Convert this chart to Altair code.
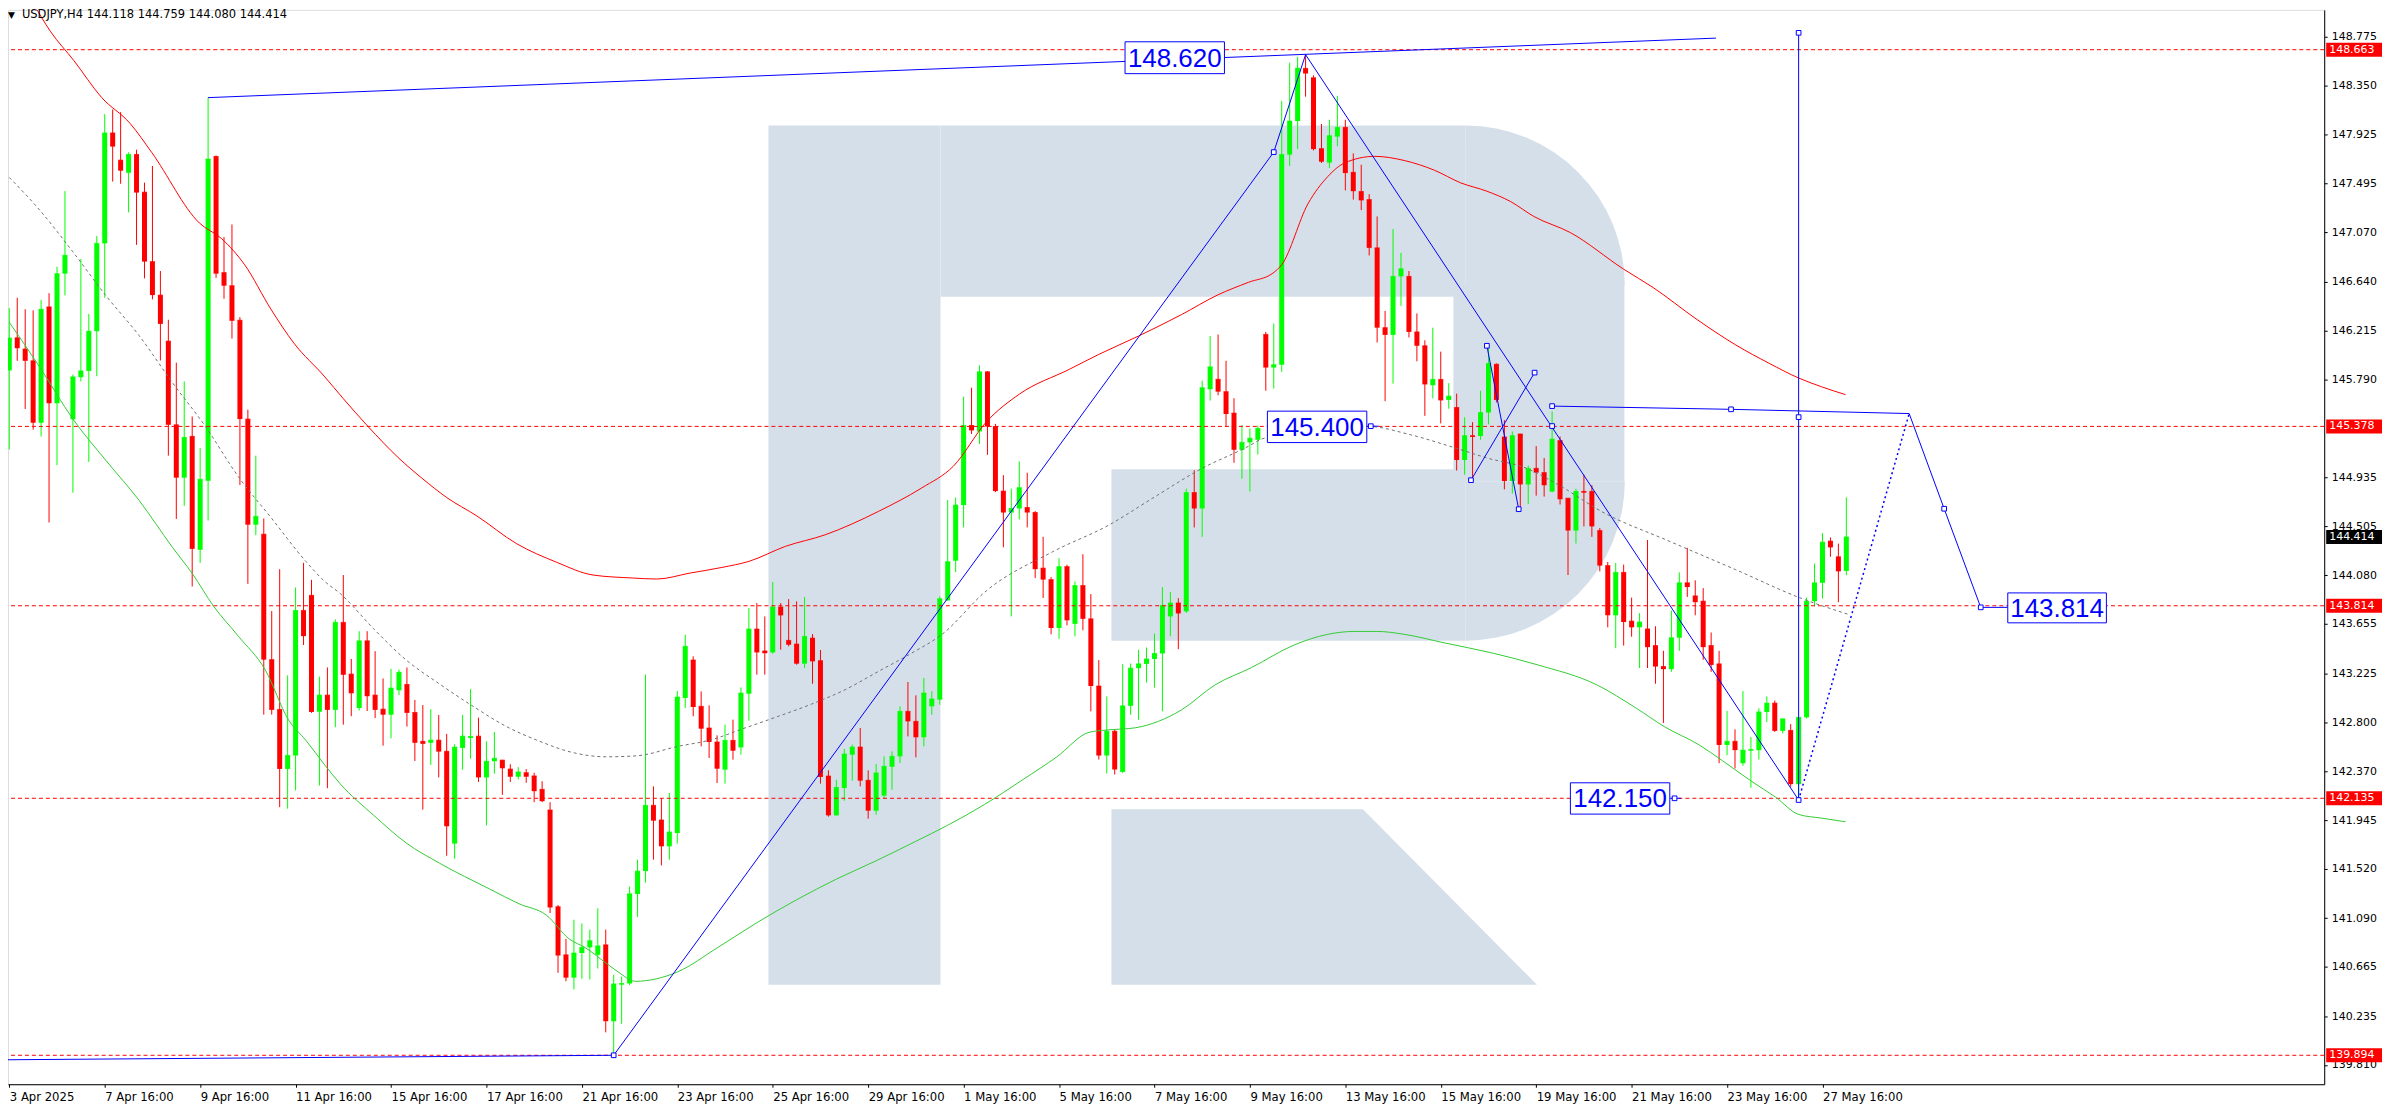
import altair as alt
import pandas as pd

# ---------------- data ----------------
bar_index = list(range(1, 233))
open_px = [145.866,146.150,146.053,145.950,145.410,146.420,145.580,146.710,145.440,145.807,
145.862,146.208,146.974,147.937,147.700,147.590,147.750,147.421,146.815,146.523,
146.122,145.392,144.931,145.291,144.302,144.904,147.732,146.719,146.605,146.304,
145.442,144.521,144.438,143.344,142.910,142.391,142.509,143.773,143.905,142.890,
143.035,142.906,143.669,143.218,142.922,143.508,143.035,142.912,142.864,143.077,
143.128,142.883,142.632,142.619,142.642,142.545,141.740,142.574,142.661,142.677,
142.317,142.458,142.468,142.390,142.323,142.358,142.330,142.213,142.033,141.189,
140.770,140.571,140.786,140.835,140.770,140.857,140.191,140.510,140.520,141.300,
141.500,142.074,141.946,141.716,141.832,143.010,143.341,142.937,142.748,142.626,
142.385,142.640,142.579,143.047,143.611,143.420,143.407,143.803,143.512,143.480,
143.309,143.532,143.335,142.329,141.986,142.225,142.515,142.582,142.292,142.027,
142.158,142.410,142.501,142.893,142.806,142.667,142.937,142.995,143.860,144.207,
144.692,145.386,145.334,145.854,145.377,144.814,144.627,144.662,144.671,144.627,
144.142,144.042,143.620,144.155,143.656,143.990,143.700,143.114,142.508,142.720,
142.365,142.941,143.270,143.307,143.350,143.398,143.721,143.838,143.765,144.801,
144.662,145.702,145.789,145.681,145.494,145.174,145.239,145.261,146.180,145.891,
145.916,147.748,148.041,148.500,148.418,147.800,147.678,147.905,147.986,147.594,
147.426,147.356,146.935,146.239,146.176,146.686,146.686,146.202,146.081,145.737,
145.788,145.609,145.543,145.085,145.297,145.294,145.499,145.920,145.286,144.902,
145.312,144.872,145.012,144.975,144.810,145.254,144.752,144.470,144.811,144.811,
144.470,144.164,143.731,144.105,143.680,143.626,143.612,143.467,143.284,143.261,
143.535,144.014,143.900,143.854,143.467,143.307,142.600,142.632,142.441,142.550,
142.555,142.888,142.965,142.723,142.727,142.258,142.841,143.854,144.014,144.378,
144.241,144.118]
high_px = [146.409,146.500,146.400,146.390,146.480,146.540,146.770,147.430,145.830,146.838,
146.359,147.038,148.101,148.142,148.119,147.768,147.791,147.504,147.649,146.733,
146.308,145.934,145.770,145.465,145.191,148.245,147.741,147.029,147.139,146.331,
145.524,145.123,144.575,143.768,144.133,143.207,143.973,144.188,144.040,143.196,
143.276,143.695,144.082,143.350,143.592,143.592,143.418,143.180,143.264,143.257,
143.276,142.993,142.948,142.912,142.861,142.697,142.606,142.861,143.086,142.838,
142.632,142.713,142.470,142.432,142.407,142.390,142.358,142.284,142.101,141.205,
140.909,141.076,141.044,140.990,141.176,140.990,140.597,140.580,141.366,141.600,
143.213,142.239,142.135,142.181,143.070,143.561,143.373,143.067,142.945,142.684,
142.777,142.821,143.102,143.794,143.838,143.721,144.021,143.838,143.872,143.852,
143.890,143.567,143.428,142.379,142.297,142.565,142.603,142.748,142.379,142.434,
142.501,142.544,142.937,143.149,143.033,143.184,143.068,143.896,144.736,144.757,
145.637,145.715,145.910,145.860,145.400,144.953,144.835,145.074,144.974,144.640,
144.415,144.064,144.229,144.172,144.025,144.263,143.916,143.340,143.023,142.733,
143.305,143.310,143.430,143.450,143.571,143.977,143.934,143.880,144.835,144.996,
145.776,146.166,146.179,145.950,145.624,145.390,145.360,145.385,146.202,146.275,
148.217,148.550,148.600,148.620,148.440,148.015,148.052,148.261,148.052,147.759,
147.660,147.403,147.209,146.385,147.099,146.891,146.733,146.363,146.129,146.239,
146.030,145.755,145.664,145.458,145.415,145.689,146.081,145.927,145.433,145.334,
145.312,145.037,145.206,145.103,145.509,145.290,144.752,144.834,144.957,144.866,
144.492,144.196,144.187,144.173,143.885,143.749,144.387,143.635,143.421,143.772,
144.105,144.319,144.036,143.968,143.581,143.421,142.897,142.736,143.070,142.669,
142.920,143.024,142.988,142.828,142.782,142.841,143.886,144.182,144.447,144.410,
144.356,144.759]
low_px = [145.177,145.950,145.530,145.350,145.290,144.540,145.040,146.520,144.800,145.770,
145.068,145.816,146.500,147.513,147.494,147.244,146.961,146.669,146.486,145.953,
145.123,144.571,144.685,143.982,144.188,144.557,146.673,146.491,146.144,144.867,
144.005,144.430,142.865,142.865,142.058,142.044,142.204,143.472,142.880,142.246,
142.223,142.755,142.777,142.851,142.900,142.896,142.835,142.594,142.658,143.035,
142.761,142.461,142.036,142.426,142.317,141.634,141.608,142.384,142.481,142.278,
141.898,142.349,142.165,142.278,142.300,142.271,142.101,142.101,141.134,140.613,
140.539,140.468,140.561,140.555,140.651,140.094,139.894,140.168,140.506,141.100,
141.400,141.600,141.550,141.600,141.740,142.922,142.850,142.588,142.486,142.268,
142.263,142.472,142.515,142.812,143.213,143.213,143.396,143.431,143.460,143.300,
143.271,143.134,142.263,141.975,141.986,142.114,142.289,142.239,141.957,141.992,
142.129,142.210,142.443,142.675,142.492,142.588,142.864,142.951,143.860,144.107,
144.497,145.312,145.225,145.130,144.805,144.324,143.721,144.567,144.497,144.055,
143.882,143.565,143.526,143.643,143.548,143.600,142.893,142.473,142.352,142.343,
142.356,142.863,142.820,143.145,143.100,142.893,143.548,143.435,143.752,144.497,
144.415,145.603,145.650,145.377,145.061,144.922,144.810,145.133,145.689,145.708,
145.854,147.649,147.796,148.253,147.785,147.675,147.631,147.821,147.436,147.356,
147.264,146.869,146.110,145.598,145.751,146.429,146.154,145.946,145.470,145.623,
145.404,145.532,144.993,144.957,144.920,145.261,145.396,145.587,144.829,144.792,
144.664,144.700,144.774,144.766,144.803,144.697,144.082,144.356,144.506,144.415,
144.114,143.626,143.444,143.467,143.544,143.271,143.271,143.134,142.792,143.238,
143.421,143.891,143.731,143.343,143.238,142.441,142.510,142.395,142.418,142.227,
142.473,142.800,142.714,142.700,142.235,142.113,142.830,143.809,143.877,144.241,
143.845,144.080]
close_px = [146.149,146.060,145.950,145.410,146.400,145.580,146.710,146.870,145.810,145.862,
146.208,146.974,147.937,147.818,147.608,147.750,147.417,146.815,146.523,146.272,
145.392,144.931,145.282,144.310,144.917,147.709,146.710,146.605,146.299,145.442,
144.521,144.594,143.344,142.906,142.391,142.509,143.773,143.549,142.888,143.035,
142.906,143.669,143.212,143.051,143.508,143.025,142.906,142.864,143.096,143.234,
142.880,142.619,142.610,142.642,142.542,141.891,142.581,142.677,142.674,142.317,
142.458,142.484,142.397,142.323,142.365,142.323,142.197,142.110,141.183,140.764,
140.571,140.786,140.835,140.893,140.848,140.191,140.516,140.520,141.302,141.500,
142.074,141.940,141.716,141.841,143.018,143.460,142.931,142.742,142.626,142.393,
142.640,142.550,143.053,143.611,143.407,143.400,143.803,143.730,143.474,143.309,
143.547,143.329,142.321,141.986,142.230,142.521,142.582,142.289,142.027,142.356,
142.414,142.501,142.893,142.806,142.667,143.053,143.001,143.875,144.198,144.692,
145.386,145.343,145.854,145.377,144.814,144.627,144.662,144.844,144.627,144.133,
144.042,143.620,144.155,143.687,143.990,143.700,143.114,142.508,142.720,142.386,
142.941,143.270,143.307,143.350,143.398,143.817,143.838,143.747,144.801,144.662,
145.715,145.897,145.681,145.486,145.174,145.239,145.275,145.360,145.891,145.916,
147.748,148.041,148.502,148.455,147.796,147.686,147.913,147.986,147.587,147.429,
147.349,146.935,146.239,146.176,146.686,146.752,146.202,146.081,145.744,145.788,
145.605,145.642,145.085,145.297,145.286,145.499,145.927,145.609,144.902,145.297,
144.872,145.012,144.975,144.865,145.267,144.743,144.470,144.811,144.800,144.506,
144.164,143.731,144.105,143.672,143.626,143.672,143.453,143.284,143.261,143.535,
144.014,143.977,143.845,143.453,143.298,142.600,142.632,142.555,142.555,142.560,
142.888,142.965,142.723,142.828,142.258,142.841,143.854,144.014,144.369,144.323,
144.114,144.414]

# moving averages (bar position, value)
red_ma_bar = [3.9,6.2,9.1,12.6,16.2,18.9,24.9,27.7,30.6,33.9,36.8,40.6,43,46.1,50,53,56,59.8,64.8,69.8,74.4,79.4,
              82.4,86.6,90.6,94,98.6,103.6,110.3,115.7,119.7,123.9,128,134.3,138,143,148.4,153,156.8,159.9,161,
              164.3,166.8,168.9,172.7,176.4,180.2,183.5,186.8,189.8,192.7,197.3,204,207.7,213.1,218.1,222.3,226,228.9,231.9]
red_ma_val = [149.08,148.82,148.57,148.247,148.019,147.768,147.152,147.015,146.787,146.40,146.103,145.816,145.62,145.378,
              145.10,144.92,144.758,144.597,144.355,144.194,144.082,144.056,144.047,144.099,144.148,144.201,144.332,144.433,
              144.637,144.84,145.03,145.42,145.659,145.876,146.006,146.166,146.353,146.526,146.634,146.715,146.788,147.319,
              147.557,147.675,147.733,147.697,147.612,147.502,147.429,147.338,147.209,147.068,146.749,146.589,146.316,146.088,
              145.928,145.80,145.723,145.655]
green_ma_bar = [1,4.8,9,13.2,17.3,21.5,24,26.7,29.8,33.2,36.1,38.3,40.6,42.6,46.8,50.9,55.1,61.4,65.1,68.5,71.4,73.5,76,
                77.6,79.7,85,90,95,100,105,110,115,119,123.6,128.5,132.7,136.8,139,142.6,148.4,152.6,157.2,162.6,166.8,
                170.1,173,176.4,181.4,187.6,193.1,200.6,205.6,209.1,213.5,216.4,220.1,223.1,226,228.9,231.9]
green_ma_val = [146.286,145.898,145.442,145.077,144.735,144.325,144.096,143.809,143.549,143.253,142.82,142.64,142.432,
                142.262,141.988,141.746,141.569,141.344,141.215,141.118,140.909,140.829,140.70,140.619,140.539,140.62,
                140.83,141.05,141.25,141.43,141.59,141.76,141.90,142.08,142.30,142.495,142.711,142.73,142.75,142.906,
                143.123,143.275,143.473,143.565,143.59,143.59,143.565,143.491,143.40,143.30,143.125,142.92,142.76,142.60,
                142.464,142.282,142.145,141.994,141.962,141.93]
gray_ma_bar = [1,4.8,9,13.2,17.3,21.5,25.7,29.8,34,38.3,40.6,42.6,46.8,50.9,55.1,59.3,63.5,67.7,71.8,76,79.8,85.1,89.3,
               93.5,97.7,101.9,106.1,110.3,114.5,118.2,123.9,132.2,139.3,144.7,150.9,156.8,158.5,165,171.8,177.2,182.6,
               186.8,191.8,195.6,201.4,209.7,218.1,226.4,232.2]
gray_ma_val = [147.549,147.266,146.90,146.514,146.172,145.761,145.374,144.94,144.575,144.2,144.03,143.921,143.614,143.341,
               143.132,142.938,142.761,142.632,142.535,142.497,142.505,142.588,142.646,142.748,142.85,142.957,143.082,
               143.242,143.402,143.56,143.947,144.285,144.519,144.749,145.009,145.204,145.268,145.35,145.378,145.305,
               145.195,145.103,145.012,144.876,144.629,144.378,144.128,143.877,143.74]

# analyst drawings (blue)
blue_seg = ["A","A","B","B","C","C","C","D","D","E","E","F","F","G","G","G","H","H","I","I","I","I","K","K","L","L"]
blue_bar = [26,215.6, 0.84,77, 77,160,164, 164,226, 186.8,190.8, 184.8,192.8, 195,217.5,239.9, 226,226,
            239.9,244.3,248.9,252.3, 171.7,173.2, 209.8,211.2]
blue_val = [148.245,148.764, 139.855,139.894, 139.894,147.77,148.62, 148.62,142.12, 146.081,144.656, 144.909,145.847,
            145.555,145.527,145.49, 142.12,148.81, 145.49,144.66,143.80,143.80, 145.38,145.38, 142.135,142.135]
dotted_bar = [226, 239.9]
dotted_val = [142.12, 145.49]
anchor_bar = [77,160,184.8,186.8,190.8,192.8,195,195,217.5,226,226,226,244.3,248.9,172.2,210.4]
anchor_val = [139.894,147.77,144.909,146.081,144.656,145.847,145.555,145.381,145.527,145.459,148.81,142.12,144.66,143.80,
              145.38,142.135]

label_text = ["148.620", "145.400", "142.150", "143.814"]
label_bar1 = [141.3, 159.2, 197.3, 252.3]
label_bar2 = [153.8, 171.7, 209.8, 264.7]
label_top = [148.732, 145.511, 142.270, 143.926]
label_bot = [148.454, 145.237, 141.997, 143.665]

level_prices = [148.663, 145.378, 143.814, 142.135, 139.894]
tag_prices = [148.663, 145.378, 143.814, 142.135, 139.894, 144.414]
tag_colors = ["#FF0000", "#FF0000", "#FF0000", "#FF0000", "#FF0000", "#000000"]

tick_bars = [1,13,25,37,49,61,73,85,97,109,121,133,145,157,169,181,193,205,217,229]
tick_labels = ["3 Apr 2025","7 Apr 16:00","9 Apr 16:00","11 Apr 16:00","15 Apr 16:00","17 Apr 16:00",
               "21 Apr 16:00","23 Apr 16:00","25 Apr 16:00","29 Apr 16:00","1 May 16:00","5 May 16:00",
               "7 May 16:00","9 May 16:00","13 May 16:00","15 May 16:00","19 May 16:00","21 May 16:00",
               "23 May 16:00","27 May 16:00"]
price_ticks = [148.775,148.350,147.925,147.495,147.070,146.640,146.215,145.790,144.935,144.505,144.080,
               143.655,143.225,142.800,142.370,141.945,141.520,141.090,140.665,140.235,139.810]

header = "USDJPY,H4  144.118 144.759 144.080 144.414"

# watermark logo pieces (in bar / price units)
logo_bar1 = [96.46, 118.09, 182.59, 139.59]
logo_bar2 = [118.09, 184.09, 204.09, 184.09]
logo_top = [148.002, 148.002, 146.612, 145.004]
logo_bot = [140.510, 146.508, 144.900, 143.509]
leg_bar = [139.59, 171.21, 193.09]
leg_top = [142.040, 142.040, 140.510]
leg_bot = [140.510, 140.510, 140.510]
corner_bar = [184.09, 184.09]
corner_val = [146.612, 144.900]

# ---------------- chart ----------------
W, H = 2324, 1078
XDOM = [0.8375, 292.09]
YDOM = [139.6415, 149.0105]
ppy = H / (YDOM[1] - YDOM[0])

xs = alt.Scale(domain=XDOM, nice=False, zero=False)
ys = alt.Scale(domain=YDOM, nice=False, zero=False)

label_expr = " : ".join(f"datum.value == {b} ? '{t}'" for b, t in zip(tick_bars, tick_labels)) + " : ''"
xaxis = alt.Axis(orient="bottom", values=tick_bars, labelExpr=label_expr, labelAlign="left",
                 labelBaseline="top", labelPadding=3, labelFont="Liberation Sans Narrow, DejaVu Sans Condensed, sans-serif",
                 labelFontSize=13, labelColor="#000000", tickSize=3, tickColor="#000000", domainColor="#000000",
                 grid=False, title=None, labelOverlap=False, labelFlush=False, labelBound=False)
yaxis = alt.Axis(orient="right", values=price_ticks, format=".3f", labelAlign="left", labelBaseline="middle",
                 labelPadding=4, labelFont="DejaVu Sans", labelFontSize=11, labelColor="#000000", tickSize=3,
                 tickColor="#000000", domainColor="#000000", grid=False, title=None, labelOverlap=False,
                 labelFlush=False, labelBound=False)

X = alt.X("bar:Q", scale=xs, axis=xaxis, title=None)
Y = alt.Y("price:Q", scale=ys, axis=yaxis, title=None)

candles = pd.DataFrame({"bar": bar_index, "open": open_px, "high": high_px, "low": low_px, "close": close_px})
candles["dir"] = ["up" if c >= o else "down" for o, c in zip(open_px, close_px)]
candles["price"] = candles[["open", "close"]].max(axis=1)
candles["price2"] = candles[["open", "close"]].min(axis=1)
color = alt.Color("dir:N", scale=alt.Scale(domain=["up", "down"], range=["#00FF00", "#FF0000"]), legend=None)

base = alt.Chart(candles)
wicks = base.mark_rule(strokeWidth=1).encode(x=X, y=alt.Y("high:Q", scale=ys, axis=yaxis, title=None),
                                               y2="low:Q", color=color)
bodies = base.mark_rule(strokeWidth=5).encode(x=X, y=Y, y2="price2:Q", color=color)
doji = base.mark_tick(thickness=1, size=5, orient="horizontal").encode(x=X, y=Y, color=color)

logo_df = pd.DataFrame({"bar": logo_bar1, "bar2": logo_bar2, "price": logo_top, "price2": logo_bot})
logo_rects = alt.Chart(logo_df).mark_rect(color="#D5DFEA").encode(x=X, x2="bar2:Q", y=Y, y2="price2:Q")
leg_df = pd.DataFrame({"bar": leg_bar, "price": leg_top, "price2": leg_bot})
logo_leg = alt.Chart(leg_df).mark_area(color="#D5DFEA").encode(x=X, y=Y, y2="price2:Q")
c_df = pd.DataFrame({"bar": corner_bar, "price": corner_val})
corner_tr = alt.Chart(c_df.iloc[[0]]).mark_arc(radius=160, theta=0, theta2=1.5708, color="#D5DFEA").encode(x=X, y=Y)
corner_br = alt.Chart(c_df.iloc[[1]]).mark_arc(radius=160, theta=1.5708, theta2=3.1416, color="#D5DFEA").encode(x=X, y=Y)

levels = alt.Chart(pd.DataFrame({"price": level_prices})).mark_rule(
    color="#FF0000", strokeWidth=1, strokeDash=[4, 3]).encode(y=Y)

red_ma = alt.Chart(pd.DataFrame({"bar": red_ma_bar, "price": red_ma_val})).mark_line(
    color="#FF0000", strokeWidth=1, clip=True, interpolate="monotone").encode(x=X, y=Y)
green_ma = alt.Chart(pd.DataFrame({"bar": green_ma_bar, "price": green_ma_val})).mark_line(
    color="#33CC33", strokeWidth=1, clip=True, interpolate="monotone").encode(x=X, y=Y)
gray_ma = alt.Chart(pd.DataFrame({"bar": gray_ma_bar, "price": gray_ma_val})).mark_line(
    color="#707070", strokeWidth=1, strokeDash=[3, 3], clip=True, interpolate="monotone").encode(x=X, y=Y)

bdf = pd.DataFrame({"seg": blue_seg, "bar": blue_bar, "price": blue_val, "ord": list(range(len(blue_bar)))})
blue_lines = alt.Chart(bdf).mark_line(color="#0000FF", strokeWidth=1, clip=True).encode(
    x=X, y=Y, detail="seg:N", order="ord:Q")
blue_dotted = alt.Chart(pd.DataFrame({"bar": dotted_bar, "price": dotted_val})).mark_line(
    color="#0000FF", strokeWidth=1.5, strokeDash=[2, 3], clip=True).encode(x=X, y=Y)
anchors = alt.Chart(pd.DataFrame({"bar": anchor_bar, "price": anchor_val})).mark_point(
    shape="square", size=22, filled=True, fill="white", stroke="#0000FF", strokeWidth=1, opacity=1).encode(x=X, y=Y)

ldf = pd.DataFrame({"bar": label_bar1, "bar2": label_bar2, "price": label_top, "price2": label_bot, "t": label_text})
ldf["cx"] = (ldf["bar"] + ldf["bar2"]) / 2
ldf["cy"] = (ldf["price"] + ldf["price2"]) / 2
label_boxes = alt.Chart(ldf).mark_rect(fill="white", stroke="#0000FF", strokeWidth=1).encode(
    x=X, x2="bar2:Q", y=Y, y2="price2:Q")
label_texts = alt.Chart(ldf).mark_text(font="Liberation Sans", fontSize=26, color="#0000FF",
                                       align="center", baseline="middle", dy=1).encode(
    x=alt.X("cx:Q", scale=xs, axis=xaxis, title=None), y=alt.Y("cy:Q", scale=ys, axis=yaxis, title=None), text="t:N")

half = 7.0 / ppy
tdf = pd.DataFrame({"price": tag_prices, "col": tag_colors})
tdf["txt"] = [f"{p:.3f}" for p in tag_prices]
tag_boxes = alt.Chart(tdf).transform_calculate(
    hi=f"datum.price + {half}", lo=f"datum.price - {half}").mark_rect().encode(
    x=alt.value(W + 2), x2=alt.value(W + 58),
    y=alt.Y("hi:Q", scale=ys, axis=yaxis, title=None), y2="lo:Q",
    color=alt.Color("col:N", scale=None, legend=None))
tag_texts = alt.Chart(tdf).mark_text(font="DejaVu Sans", fontSize=11, color="white", align="left",
                                     baseline="middle").encode(x=alt.value(W + 5), y=Y, text="txt:N")

hdr = alt.Chart(pd.DataFrame({"t": [header]})).mark_text(
    font="DejaVu Sans", fontSize=11.5, color="#000000", align="left", baseline="middle").encode(
    x=alt.value(14), y=alt.value(5), text="t:N")
tri = alt.Chart(pd.DataFrame({"t": ["\u25BC"]})).mark_text(
    font="DejaVu Sans", fontSize=9, color="#000000", align="left", baseline="middle").encode(
    x=alt.value(0), y=alt.value(5), text="t:N")

chart = alt.layer(
    logo_rects, logo_leg, corner_tr, corner_br,
    wicks, bodies, doji,
    levels, red_ma, green_ma, gray_ma,
    blue_lines, blue_dotted, anchors, label_boxes, label_texts,
    tag_boxes, tag_texts, hdr, tri
).properties(
    width=W, height=H,
    autosize=alt.AutoSizeParams(type="none"),
    padding={"left": 0, "top": 0, "right": 64, "bottom": 24}
).configure_view(stroke="#000000", strokeWidth=1).configure(background="white")

chart.save("out.html", embed_options={"renderer": "svg", "actions": False})
